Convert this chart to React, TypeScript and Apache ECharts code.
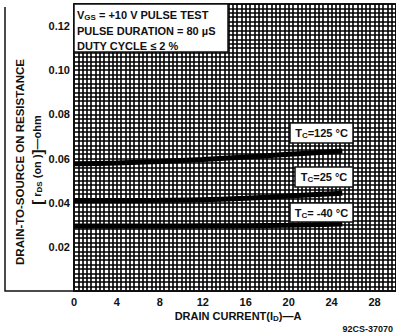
import React, { useEffect, useRef } from 'react';
import * as echarts from 'echarts';

// Tick labels
const xTicks = [0, 4, 8, 12, 16, 20, 24, 28];
const yTicks = [0.02, 0.04, 0.06, 0.08, 0.1, 0.12];
// Drain current (A)
const current = [0, 4, 8, 12, 16, 20, 25];
// rDS(on) (ohm) for each case temperature
const r125 = [0.0576, 0.058, 0.0587, 0.0596, 0.0607, 0.0619, 0.0634];
const r25 = [0.041, 0.041, 0.0411, 0.0413, 0.042, 0.043, 0.0443];
const rm40 = [0.0294, 0.0294, 0.0294, 0.0295, 0.0296, 0.0298, 0.0304];
const seriesNames = ['TC=125 °C', 'TC=25 °C', 'TC=-40 °C'];

const FONT = '"Liberation Sans", Arial, sans-serif';
const INK = '#111';

const m = { fontFamily: FONT, fontWeight: 'bold' as const, fontSize: 11, color: INK, lineHeight: 13, verticalAlign: 'middle' as const };
const s = { fontFamily: FONT, fontWeight: 'bold' as const, fontSize: 8, color: INK, lineHeight: 13, verticalAlign: 'bottom' as const };

function richText(x: number, y: number, text: string, align: string, opts: any = {}) {
  return {
    type: 'text',
    x,
    y,
    z: 120,
    rotation: opts.rotation || 0,
    style: {
      text,
      align,
      verticalAlign: 'middle',
      fill: INK,
      font: `bold ${opts.size || 11}px ${FONT}`,
      rich: {
        m: { ...m, fontSize: opts.size || 11 },
        s: { ...s },
        b: { ...m, fontSize: 15 },
      },
    },
  };
}

function box(x: number, y: number, w: number, h: number) {
  return {
    type: 'rect',
    z: 110,
    shape: { x, y, width: w, height: h },
    style: { fill: '#fff', stroke: INK, lineWidth: 1.5 },
  };
}

export default function App() {
  const ref = useRef<HTMLDivElement>(null);
  useEffect(() => {
    if (!ref.current) return;
    const chart = echarts.init(ref.current, null, { renderer: 'svg' });
    const mk = (vals: number[], name: string) => ({
      type: 'line',
      name,
      xAxisIndex: 0,
      yAxisIndex: 0,
      data: current.map((c, i) => [c, vals[i]]),
      smooth: 0.3,
      symbol: 'none',
      z: 5,
      lineStyle: { color: '#000', width: 5 },
    });
    const gridLine = { show: true, lineStyle: { color: '#000', width: 1.6 } };
    chart.setOption({
      animation: false,
      backgroundColor: '#fff',
      grid: { left: 74, right: 0, top: 4, bottom: 43, show: true, borderColor: INK, borderWidth: 1.5 },
      xAxis: [
        {
          type: 'value',
          min: 0,
          max: 30,
          interval: 4,
          axisLine: { show: true, lineStyle: { color: INK, width: 1.5 } },
          axisTick: { show: false },
          splitLine: { show: false },
          axisLabel: {
            customValues: xTicks,
            color: INK,
            fontFamily: FONT,
            fontWeight: 'bold',
            fontSize: 11,
            margin: 5,
          },
        },
        {
          type: 'value',
          min: 0,
          max: 30,
          interval: 0.4,
          show: true,
          axisLine: { show: false },
          axisTick: { show: false },
          axisLabel: { show: false },
          splitLine: gridLine,
        },
      ],
      yAxis: [
        {
          type: 'value',
          min: 0,
          max: 0.13,
          interval: 0.02,
          axisLine: { show: true, lineStyle: { color: INK, width: 1.5 } },
          axisTick: { show: false },
          splitLine: { show: false },
          axisLabel: {
            customValues: yTicks,
            formatter: (v: number) => v.toFixed(2),
            color: INK,
            fontFamily: FONT,
            fontWeight: 'bold',
            fontSize: 11,
            margin: 4,
          },
        },
        {
          type: 'value',
          min: 0,
          max: 0.13,
          interval: 0.002,
          show: true,
          axisLine: { show: false },
          axisTick: { show: false },
          axisLabel: { show: false },
          splitLine: gridLine,
        },
      ],
      series: [mk(r125, seriesNames[0]), mk(r25, seriesNames[1]), mk(rm40, seriesNames[2])],
      graphic: [
        {
          type: 'polyline',
          z: 100,
          shape: { points: [[5, 7], [5, 291], [74, 291]] },
          style: { stroke: INK, lineWidth: 1.5, fill: null },
        },
        box(74, 4, 154, 48),
        richText(77, 15, '{m|V}{s|GS}{m| = +10 V PULSE TEST}', 'left'),
        richText(77, 31, '{m|PULSE DURATION = 80 µS}', 'left'),
        richText(77, 46, '{m|DUTY CYCLE ≤ 2 %}', 'left'),
        box(290, 123, 63, 20),
        richText(321.5, 133, '{m|T}{s|C}{m|=125 °C}', 'center'),
        box(295, 167, 58, 20),
        richText(324, 177, '{m|T}{s|C}{m|=25 °C}', 'center'),
        box(290, 203, 63, 19),
        richText(321.5, 212.5, '{m|T}{s|C}{m|= -40 °C}', 'center'),
        richText(20, 162, '{m|DRAIN-TO-SOURCE ON RESISTANCE}', 'center', { rotation: Math.PI / 2, size: 11.5 }),
        richText(37, 160, '{b|[} {m|r}{s|DS}{m| (on )}{b|]}{m|—ohm}', 'center', { rotation: Math.PI / 2 }),
        richText(238, 316, '{m|DRAIN CURRENT(I}{s|D}{m|)—A}', 'center'),
        {
          type: 'text',
          x: 393,
          y: 329,
          z: 120,
          style: { text: '92CS-37070', align: 'right', verticalAlign: 'middle', fill: INK, font: `bold 9px ${FONT}` },
        },
      ],
    });
    return () => chart.dispose();
  }, []);
  return <div ref={ref} style={{ position: 'fixed', left: 0, top: 0, width: 396, height: 334 }} />;
}
